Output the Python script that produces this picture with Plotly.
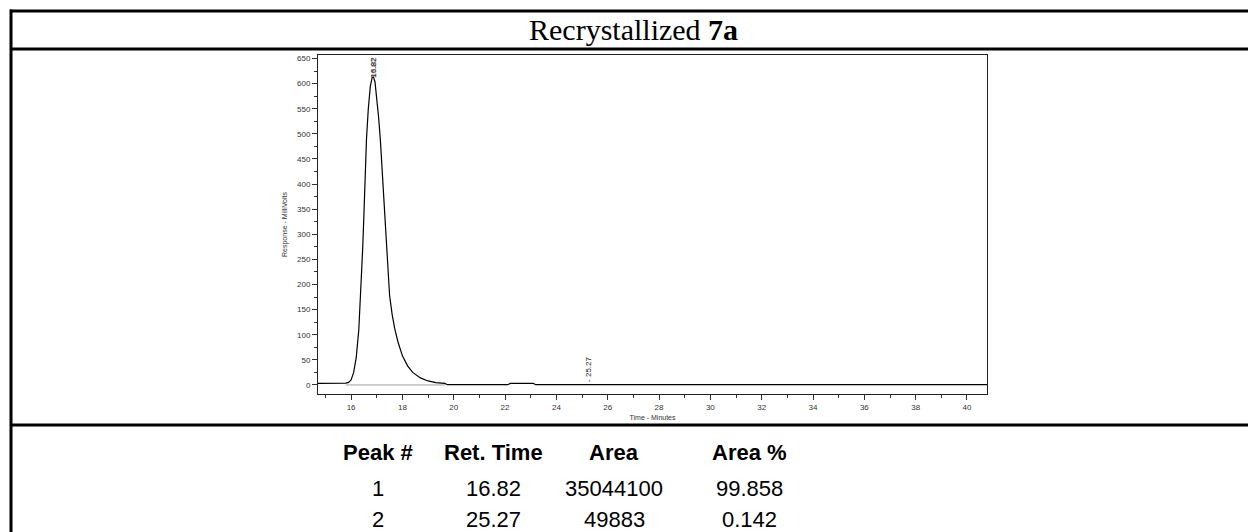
import plotly.graph_objects as go

# ---------------- data ----------------
time_min = [14.71, 15.0, 15.5, 15.8, 15.9, 16.0, 16.1, 16.2, 16.3, 16.35, 16.4, 16.45, 16.5, 16.55,
            16.6, 16.67, 16.75, 16.82, 16.87, 16.93, 17.0, 17.07, 17.14, 17.2, 17.26, 17.32, 17.38,
            17.44, 17.5, 17.6, 17.7, 17.83, 18.0, 18.2, 18.4, 18.7, 19.0, 19.3, 19.65, 19.75, 20.5,
            22.1, 22.2, 23.1, 23.2, 25.0, 25.27, 25.5, 40.78]
response_mv = [3, 3, 3, 3.5, 5, 10, 25, 55, 110, 160, 215, 270, 340, 430,
               490, 550, 595, 612, 613, 604, 574, 534, 488, 434, 375, 318, 265,
               218, 178, 140, 112, 85, 58, 38, 25, 14, 8, 4.5, 3, 0.5, 0.5,
               0.5, 3, 3, 0.5, 0.5, 1.0, 0.5, 0.5]

baseline_t = [15.8, 19.65]
baseline_v = [0, 0]

peak_no = ["1", "2"]
ret_time = ["16.82", "25.27"]
area = ["35044100", "49883"]
area_pct = ["99.858", "0.142"]
headers = ["Peak #", "Ret. Time", "Area", "Area %"]

# ---------------- geometry helpers ----------------
W, H = 1248, 532
L, R, T, B = 318, 987, 55, 394
PW, PH = R - L, B - T


def xp(px):
    return (px - L) / PW


def yp(py):
    return (B - py) / PH


fig = go.Figure()
fig.add_trace(go.Scatter(x=baseline_t, y=baseline_v, mode="lines",
                         line=dict(color="#a0a0a0", width=1), hoverinfo="skip", showlegend=False))
fig.add_trace(go.Scatter(x=time_min, y=response_mv, mode="lines",
                         line=dict(color="black", width=1.2), showlegend=False))

tickfont = dict(family="Liberation Sans, Arial, sans-serif", size=8, color="#333333")
fig.update_xaxes(range=[14.71, 40.78], tick0=0, dtick=2, ticks="outside", ticklen=5,
                 tickcolor="#333", tickfont=tickfont, showline=True, linecolor="#222",
                 linewidth=1, mirror=True, showgrid=False, zeroline=False,
                 minor=dict(dtick=1, ticks="outside", ticklen=3, tickcolor="#333"),
                 title=dict(text="Time - Minutes", font=dict(family="Liberation Sans, Arial", size=7, color="#333"),
                            standoff=4))
fig.update_yaxes(range=[-18, 657], tick0=0, dtick=50, ticks="outside", ticklen=5,
                 tickcolor="#333", tickfont=tickfont, showline=True, linecolor="#222",
                 linewidth=1, mirror=True, showgrid=False, zeroline=False,
                 minor=dict(dtick=25, ticks="outside", ticklen=3, tickcolor="#333"),
                 title=dict(text="Response - MilliVolts", font=dict(family="Liberation Sans, Arial", size=7, color="#333"),
                            standoff=8))

ann = []
# peak labels
lblfont = dict(family="Liberation Sans, Arial", size=8, color="#111")
ann.append(dict(x=16.86, y=598, xref="x", yref="y", text="- 16.82", textangle=-90, showarrow=False,
                xanchor="center", yanchor="bottom", font=lblfont))
ann.append(dict(x=16.86, y=606, xref="x", yref="y", text="16.82", textangle=-90, showarrow=False,
                xanchor="center", yanchor="bottom", font=lblfont, opacity=0.6))
ann.append(dict(x=25.27, y=3, xref="x", yref="y", text="- 25.27", textangle=-90, showarrow=False,
                xanchor="center", yanchor="bottom", font=lblfont))

# title
ann.append(dict(x=xp(633), y=yp(29), xref="paper", yref="paper", text="Recrystallized <b>7a</b>",
                showarrow=False, xanchor="center", yanchor="middle",
                font=dict(family="Liberation Serif, Times New Roman, serif", size=30, color="black")))

# table
col_x = [378, 493, 614, 749]
row_y = [453, 488, 519]
tfont = dict(family="Liberation Sans, Arial, sans-serif", size=22, color="black")
for cx, h in zip(col_x, headers):
    ann.append(dict(x=xp(cx), y=yp(row_y[0]), xref="paper", yref="paper", text=f"<b>{h}</b>",
                    showarrow=False, xanchor="center", yanchor="middle", font=tfont))
rows = list(zip(peak_no, ret_time, area, area_pct))
for ri, row in enumerate(rows):
    for cx, v in zip(col_x, row):
        ann.append(dict(x=xp(cx), y=yp(row_y[ri + 1]), xref="paper", yref="paper", text=v,
                        showarrow=False, xanchor="center", yanchor="middle", font=tfont))

shapes = []
lw = 3
for py in [11, 49, 425]:
    shapes.append(dict(type="line", xref="paper", yref="paper", x0=xp(10), x1=xp(1250), y0=yp(py), y1=yp(py),
                       line=dict(color="black", width=lw)))
shapes.append(dict(type="line", xref="paper", yref="paper", x0=xp(11), x1=xp(11), y0=yp(9.5), y1=yp(540),
                   line=dict(color="black", width=lw)))

fig.update_layout(width=W, height=H, margin=dict(l=L, r=W - R, t=T, b=H - B),
                  paper_bgcolor="white", plot_bgcolor="white", annotations=ann, shapes=shapes,
                  showlegend=False)

fig.write_html("out.html")
